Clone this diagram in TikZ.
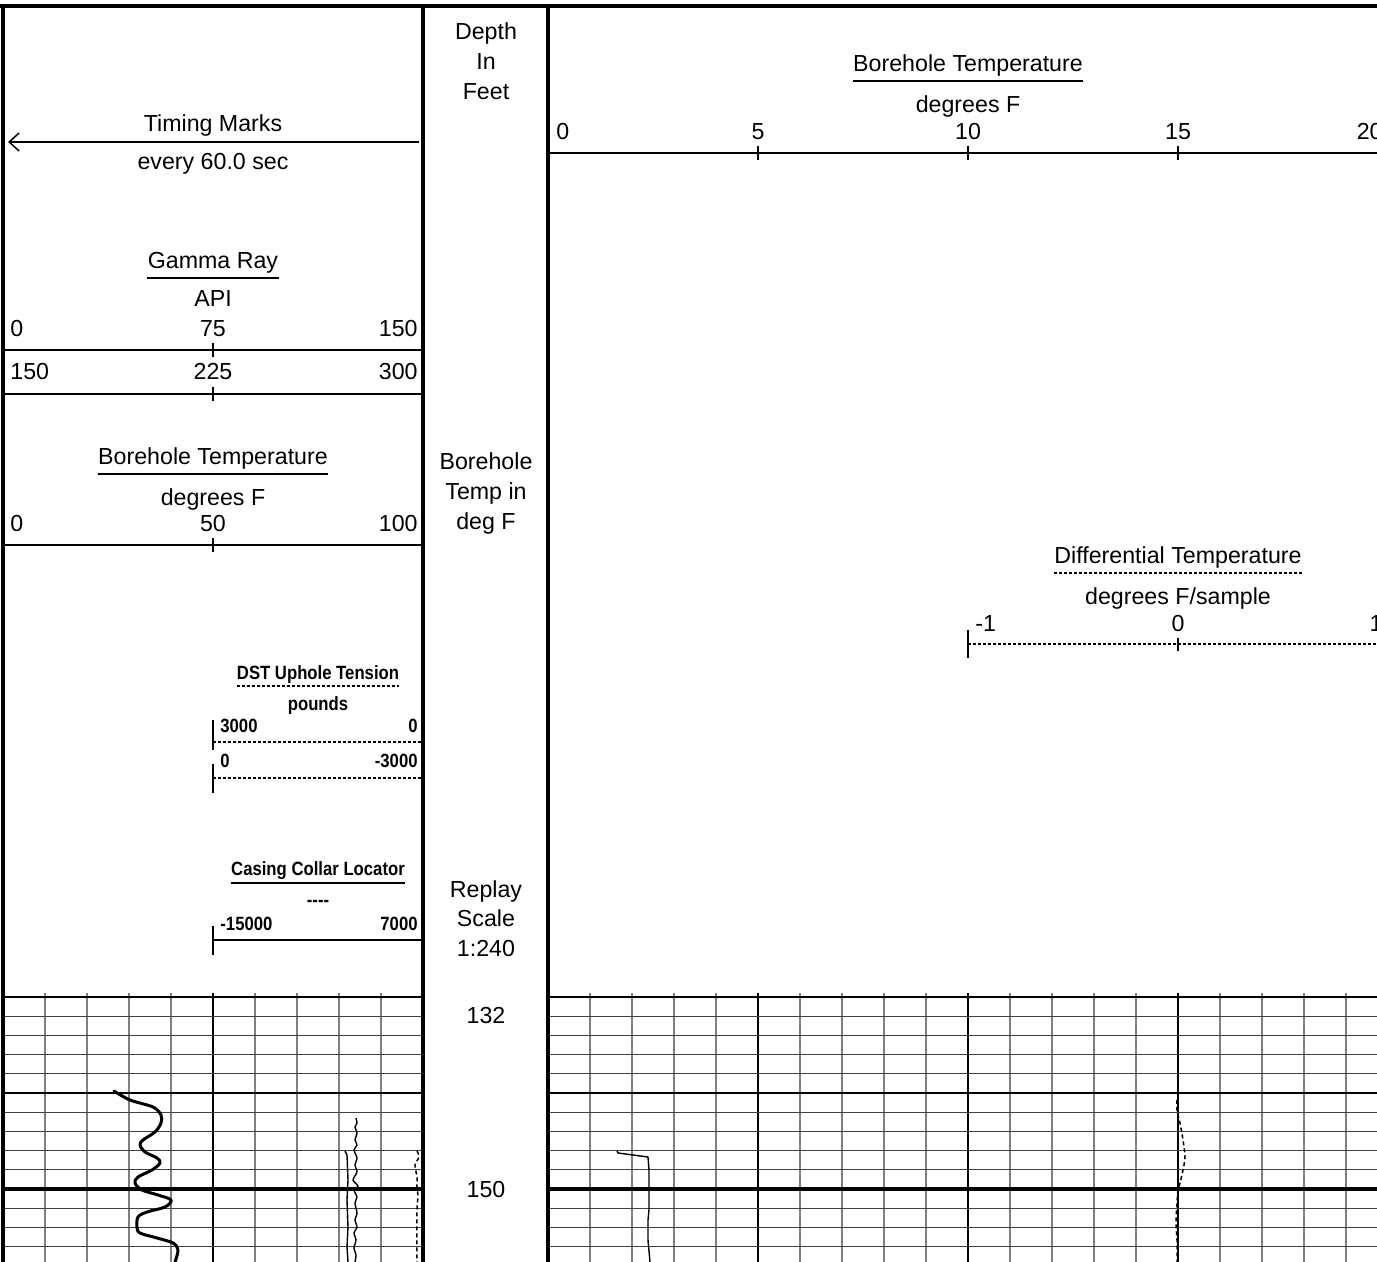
\documentclass[tikz,border=0pt]{standalone}
\usepackage{fontspec}
\setmainfont{Liberation Sans}
\newfontfamily\narrowbold[FakeStretch=0.87]{Liberation Sans}
\usetikzlibrary{arrows.meta,calc}
\begin{document}
\begin{tikzpicture}[x=0.5pt,y=-0.5pt,
  lbl/.style={inner sep=0pt,anchor=base,font=\fontsize{11.6}{13}\selectfont},
  sml/.style={inner sep=0pt,anchor=base,font=\narrowbold\bfseries\fontsize{9.6}{11}\selectfont},
  border/.style={line width=1.75pt,line cap=rect},
  hdr/.style={line width=0.9pt},
  tick/.style={line width=0.6pt},
  uline/.style={line width=0.75pt},
  dline/.style={line width=0.75pt,dash pattern=on 1.5pt off 1pt},
  vgrid/.style={line width=0.55pt,black!50},
  vmaj/.style={line width=0.6pt,black},
  vmajor/.style={line width=1.1pt,black},
  hgrid/.style={line width=0.55pt,black!75},
  hmaj/.style={line width=1.1pt,black},
  hmajor/.style={line width=1.6pt,black},
  thickcurve/.style={line width=1.5pt,line join=round,line cap=round},
  thincurve/.style={line width=0.7pt,line join=round},
  dashcurve/.style={line width=0.75pt,dash pattern=on 2pt off 1.5pt}
]
\useasboundingbox (0,0) rectangle (1377,1262);
\clip (0,0) rectangle (1377,1262);
\fill[white] (0,0) rectangle (1377,1262);

% ---------- grid ----------
\foreach \k in {1,2,3,4,6,7,8,9}
  \draw[vgrid] ({3+42*\k},993) -- ({3+42*\k},1262);
\draw[vmaj] (213,993) -- (213,1262);
\foreach \k in {1,2,3,4,6,7,8,9,11,12,13,14,16,17,18,19}
  \draw[vgrid] ({548+42*\k},993) -- ({548+42*\k},1262);
\draw[vmaj] (758,993) -- (758,1262);
\draw[vmajor] (968,993) -- (968,1262);
\draw[vmaj] (1178,993) -- (1178,1262);
\foreach \k in {1,2,3,4,6,7,8,9,11,12,13}{
  \draw[hgrid] (3,{997+19.2*\k}) -- (423,{997+19.2*\k});
  \draw[hgrid] (548,{997+19.2*\k}) -- (1388,{997+19.2*\k});
}
\foreach \yy in {997,1093}{
  \draw[hmaj] (3,\yy) -- (423,\yy);
  \draw[hmaj] (548,\yy) -- (1388,\yy);
}
\draw[hmajor] (3,1189) -- (423,1189);
\draw[hmajor] (548,1189) -- (1388,1189);

% ---------- curves ----------
\draw[thickcurve] plot[smooth,tension=0.55] coordinates {
 (114,1091) (130,1100) (153,1107) (161,1115) (161,1123) (155,1132) (143,1140)
 (140,1145) (145,1152) (157,1158) (160,1163) (152,1170) (138,1177) (135,1183)
 (142,1190) (158,1195) (171,1200) (165,1207) (147,1212) (138,1217) (137,1227)
 (140,1233) (157,1238) (173,1243) (178,1250) (175,1262)};
\draw[thincurve] plot[smooth,tension=0.4] coordinates {
 (356,1118) (357,1123) (355,1127) (357,1133) (355,1140) (357,1145) (354,1150)
 (357,1158) (355,1165) (357,1172) (353,1180) (358,1186) (354,1190) (357,1197)
 (355,1203) (357,1213) (355,1220) (357,1227) (354,1233) (356,1240) (354,1248)
 (356,1255) (355,1262)};
\draw[thincurve] plot coordinates {
 (345,1151) (347,1155) (348,1180) (347,1200) (348,1227) (347,1247) (348,1262)};
\draw[dashcurve] plot[smooth] coordinates {
 (417,1151) (419,1157) (415,1165) (417,1177) (417,1187) (418,1197) (417,1210) (417,1262)};
\draw[thincurve] plot coordinates {
 (617,1151) (618,1153) (633,1155) (648,1157) (649,1170) (649,1210) (648,1220) (648,1240) (650,1262)};
\draw[dashcurve] plot[smooth] coordinates {
 (1177,1100) (1177,1110) (1180,1123) (1183,1140) (1185,1157) (1183,1170)
 (1180,1183) (1178,1190) (1177,1203) (1176,1223) (1177,1240) (1177,1262)};

% ---------- left track header ----------
\node[lbl] (tm) at (213,132) {Timing Marks};
\node[lbl] (tmsub) at (213,170) {every 60.0 sec};
\coordinate (tmR) at (419,142);
\coordinate (tmL) at (8,142);
\draw[line width=0.75pt,-{Straight Barb[length=5pt,width=9pt]}] (tmR) -- (tmL);

\node[lbl] (gr) at (213,269) {Gamma Ray};
\draw[uline] ($(gr.base west)+(0,9)$) -- ($(gr.base east)+(0,9)$);
\node[lbl] (api) at (213,307) {API};
\node[lbl,anchor=base west] (gra) at (10,337) {0};
\node[lbl] (grb) at (213,337) {75};
\node[lbl,anchor=base east] (grc) at (418,337) {150};
\draw[hdr] (3,350) -- (423,350);
\draw[tick] (213,343) -- (213,357);
\node[lbl,anchor=base west] (grd) at (10,380) {150};
\node[lbl] (gre) at (213,380) {225};
\node[lbl,anchor=base east] (grf) at (418,380) {300};
\draw[hdr] (3,394) -- (423,394);
\draw[tick] (213,387) -- (213,401);

\node[lbl] (btl) at (213,465) {Borehole Temperature};
\draw[uline] ($(btl.base west)+(0,9)$) -- ($(btl.base east)+(0,9)$);
\node[lbl] (btlu) at (213,506) {degrees F};
\node[lbl,anchor=base west] (btla) at (10,532) {0};
\node[lbl] (btlb) at (213,532) {50};
\node[lbl,anchor=base east] (btlc) at (418,532) {100};
\draw[hdr] (3,545) -- (423,545);
\draw[tick] (213,538) -- (213,552);

\node[sml] (dst) at (318,679) {DST Uphole Tension};
\draw[dline] ($(dst.base west)+(0,7)$) -- ($(dst.base east)+(0,7)$);
\node[sml] (dstu) at (318,710) {pounds};
\node[sml,anchor=base west] (dsta) at (220,732) {3000};
\node[sml,anchor=base east] (dstb) at (418,732) {0};
\draw[dline] (213,742) -- (423,742);
\draw[tick] (213,720) -- (213,750);
\node[sml,anchor=base west] (dstc) at (220,767) {0};
\node[sml,anchor=base east] (dstd) at (418,767) {-3000};
\draw[dline] (213,778) -- (423,778);
\draw[tick] (213,764) -- (213,793);

\node[sml] (ccl) at (318,875) {Casing Collar Locator};
\draw[uline] ($(ccl.base west)+(0,8)$) -- ($(ccl.base east)+(0,8)$);
\node[sml] (cclu) at (318,906) {----};
\node[sml,anchor=base west] (ccla) at (220,930) {-15000};
\node[sml,anchor=base east] (cclb) at (418,930) {7000};
\draw[hdr] (213,940) -- (423,940);
\draw[tick] (213,926) -- (213,955);

% ---------- depth column ----------
\node[lbl] (d1) at (486,40) {Depth};
\node[lbl] (d2) at (486,70) {In};
\node[lbl] (d3) at (486,100) {Feet};
\node[lbl] (b1) at (486,470) {Borehole};
\node[lbl] (b2) at (486,500) {Temp in};
\node[lbl] (b3) at (486,530) {deg F};
\node[lbl] (r1) at (486,897) {Replay};
\node[lbl] (r2) at (486,926) {Scale};
\node[lbl] (r3) at (486,956) {1:240};
\node[lbl] (dep132) at (486,1023) {132};
\node[lbl] (dep150) at (486,1197) {150};

% ---------- right track header ----------
\node[lbl] (btr) at (968,72) {Borehole Temperature};
\draw[uline] ($(btr.base west)+(0,9)$) -- ($(btr.base east)+(0,9)$);
\node[lbl] (btru) at (968,113) {degrees F};
\node[lbl,anchor=base west] (s0) at (556,140) {0};
\node[lbl] (s5) at (758,140) {5};
\node[lbl] (s10) at (968,140) {10};
\node[lbl] (s15) at (1178,140) {15};
\node[lbl,anchor=base east] (s20) at (1383,140) {20};
\draw[hdr] (548,153) -- (1388,153);
\foreach \xx in {758,968,1178} \draw[tick] (\xx,146) -- (\xx,160);

\node[lbl] (dt) at (1178,564) {Differential Temperature};
\draw[dline] ($(dt.base west)+(0,9)$) -- ($(dt.base east)+(0,9)$);
\node[lbl] (dtu) at (1178,604) {degrees F/sample};
\node[lbl,anchor=base west] (dta) at (975,632) {-1};
\node[lbl] (dtb) at (1178,632) {0};
\node[lbl,anchor=base east] (dtc) at (1383,632) {1};
\draw[dline] (968,644) -- (1388,644);
\draw[tick] (968,630) -- (968,658);
\draw[tick] (1178,638) -- (1178,651);

% ---------- borders ----------
\draw[border] (0,6) -- (1377,6);
\draw[border] (3,6) -- (3,1262);
\draw[border] (423,6) -- (423,1262);
\draw[border] (548,6) -- (548,1262);
\end{tikzpicture}
\end{document}
